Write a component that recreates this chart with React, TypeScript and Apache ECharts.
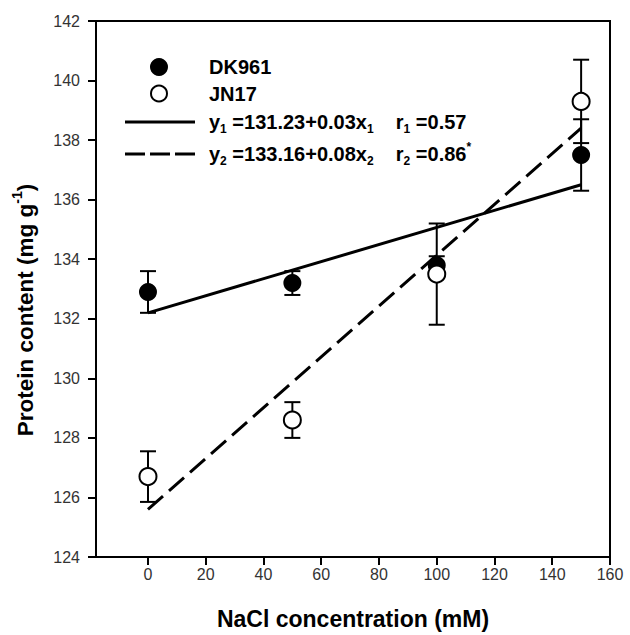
import React, { useEffect, useRef } from "react";
import * as echarts from "echarts";

const xTicks = [0, 20, 40, 60, 80, 100, 120, 140, 160];
const nacl = [0, 50, 100, 150];
const dk961 = [132.9, 133.2, 133.8, 137.5];
const dk961Err = [0.7, 0.4, 0.3, 1.2];
const jn17 = [126.7, 128.6, 133.5, 139.3];
const jn17Err = [0.85, 0.6, 1.7, 1.4];
const fitX = [0, 150];
const fitDK = [132.2, 136.5];
const fitJN = [125.6, 138.4];

const FONT = "Liberation Sans, Arial, Helvetica, sans-serif";

export default function App() {
  const ref = useRef<HTMLDivElement>(null);
  useEffect(() => {
    if (!ref.current) return;
    const chart = echarts.init(ref.current, null, { renderer: "svg" });
    const errData = (ys: number[], es: number[]) => nacl.map((x, i) => [x, ys[i], es[i]]);
    const renderErr = (params: any, api: any) => {
      const x = api.value(0);
      const y = api.value(1);
      const e = api.value(2);
      const top = api.coord([x, y + e]);
      const bot = api.coord([x, y - e]);
      const hw = 8;
      const st = { stroke: "#000", lineWidth: 2 };
      return {
        type: "group",
        children: [
          { type: "line", shape: { x1: top[0], y1: top[1], x2: bot[0], y2: bot[1] }, style: st },
          { type: "line", shape: { x1: top[0] - hw, y1: top[1], x2: top[0] + hw, y2: top[1] }, style: st },
          { type: "line", shape: { x1: bot[0] - hw, y1: bot[1], x2: bot[0] + hw, y2: bot[1] }, style: st },
        ],
      };
    };
    const textBase = { fontFamily: FONT, fontWeight: "bold", fontSize: 20, fill: "#000" };
    const rich = {
      sub: { fontSize: 12, fontWeight: "bold", fontFamily: FONT, verticalAlign: "bottom", lineHeight: 26 },
      sup: { fontSize: 12, fontWeight: "bold", fontFamily: FONT, verticalAlign: "top", lineHeight: 26 },
      n: { fontSize: 20, fontWeight: "bold", fontFamily: FONT, lineHeight: 26 },
    };
    chart.setOption({
      animation: false,
      grid: { left: 96, right: 20, top: 21, bottom: 73, show: true, borderColor: "#000", borderWidth: 2, backgroundColor: "#fff" },
      xAxis: {
        type: "value",
        min: -18,
        max: 160,
        axisLine: { show: true, onZero: false, lineStyle: { color: "#000", width: 2 } },
        axisTick: { show: true, customValues: xTicks, length: 8, lineStyle: { color: "#000", width: 2 } },
        axisLabel: { customValues: xTicks, fontSize: 16, color: "#333", margin: 9, fontFamily: FONT },
        splitLine: { show: false },
        name: "NaCl concentration (mM)",
        nameLocation: "middle",
        nameGap: 50,
        nameTextStyle: { fontSize: 23, fontWeight: "bold", color: "#000", fontFamily: FONT },
      },
      yAxis: {
        type: "value",
        min: 124,
        max: 142,
        interval: 2,
        axisLine: { show: true, onZero: false, lineStyle: { color: "#000", width: 2 } },
        axisTick: { show: true, length: 8, lineStyle: { color: "#000", width: 2 } },
        axisLabel: { fontSize: 16, color: "#333", margin: 16, fontFamily: FONT },
        splitLine: { show: false },
      },
      graphic: [
        {
          type: "text",
          x: 25,
          y: 310,
          rotation: Math.PI / 2,
          style: {
            text: "{n|Protein content (mg g}{sup|-1}{n|)}",
            rich: {
              n: { fontSize: 22.5, fontWeight: "bold", fontFamily: FONT, lineHeight: 30 },
              sup: { fontSize: 14, fontWeight: "bold", fontFamily: FONT, verticalAlign: "top", lineHeight: 30 },
            },
            align: "center",
            verticalAlign: "middle",
            fill: "#000",
          },
        },
        { type: "circle", shape: { cx: 159, cy: 67, r: 9 }, style: { fill: "#000" } },
        { type: "circle", shape: { cx: 159, cy: 93.5, r: 8 }, style: { fill: "#fff", stroke: "#000", lineWidth: 2 } },
        { type: "line", shape: { x1: 125, y1: 122, x2: 195, y2: 122 }, style: { stroke: "#000", lineWidth: 3 } },
        { type: "line", shape: { x1: 125, y1: 154, x2: 195, y2: 154 }, style: { stroke: "#000", lineWidth: 3, lineDash: [20, 5] } },
        { type: "text", x: 209, y: 67, style: { ...textBase, text: "DK961", verticalAlign: "middle", align: "left" } },
        { type: "text", x: 209, y: 93.5, style: { ...textBase, text: "JN17", verticalAlign: "middle", align: "left" } },
        {
          type: "text",
          x: 209,
          y: 122,
          style: { text: "{n|y}{sub|1}{n| =131.23+0.03x}{sub|1}{n|    r}{sub|1}{n| =0.57}", rich, fill: "#000", verticalAlign: "middle", align: "left" },
        },
        {
          type: "text",
          x: 209,
          y: 154,
          style: { text: "{n|y}{sub|2}{n| =133.16+0.08x}{sub|2}{n|    r}{sub|2}{n| =0.86}{sup|*}", rich, fill: "#000", verticalAlign: "middle", align: "left" },
        },
      ],
      series: [
        { type: "custom", name: "DK961 err", renderItem: renderErr, data: errData(dk961, dk961Err), z: 2 },
        { type: "custom", name: "JN17 err", renderItem: renderErr, data: errData(jn17, jn17Err), z: 2 },
        {
          type: "line",
          name: "fit DK961",
          data: fitX.map((x, i) => [x, fitDK[i]]),
          symbol: "none",
          lineStyle: { color: "#000", width: 3 },
          z: 3,
        },
        {
          type: "line",
          name: "fit JN17",
          data: fitX.map((x, i) => [x, fitJN[i]]),
          symbol: "none",
          lineStyle: { color: "#000", width: 3, type: [20, 8] },
          z: 3,
        },
        {
          type: "scatter",
          name: "DK961",
          data: nacl.map((x, i) => [x, dk961[i]]),
          symbol: "circle",
          symbolSize: 18,
          itemStyle: { color: "#000", opacity: 1 },
          z: 4,
        },
        {
          type: "scatter",
          name: "JN17",
          data: nacl.map((x, i) => [x, jn17[i]]),
          symbol: "circle",
          symbolSize: 17,
          itemStyle: { color: "#fff", borderColor: "#000", borderWidth: 2, opacity: 1 },
          z: 5,
        },
      ],
    });
    return () => chart.dispose();
  }, []);
  return <div ref={ref} style={{ position: "absolute", left: 0, top: 0, width: 630, height: 635, background: "#fff" }} />;
}
